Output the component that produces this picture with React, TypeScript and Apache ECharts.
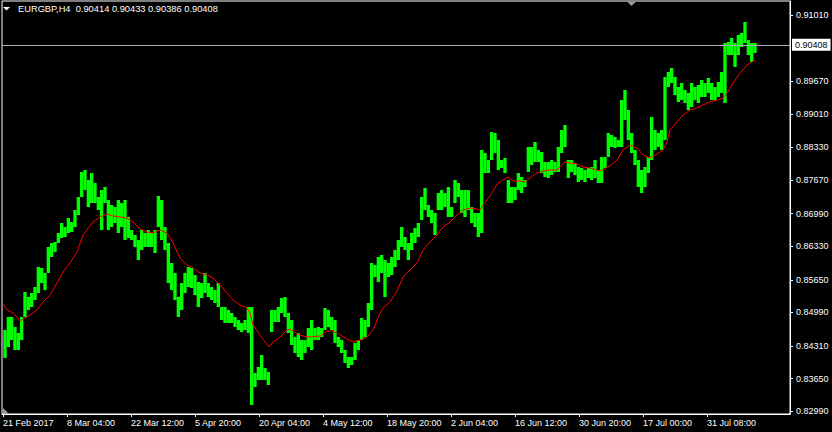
import React, { useEffect, useRef } from 'react';
import * as echarts from 'echarts';

const FONT = '"Liberation Sans", Arial, sans-serif';
const SYMBOL = 'EURGBP,H4';
const LAST_OHLC = [0.90414, 0.90433, 0.90386, 0.90408];
const BID = 0.90408;

// each slot groups ~3.3 H4 bars; bar index 0 sits at the chart's left edge
const SLOT_BARS = 10 / 3;

const HIGHS = [
  0.84635, 0.84898, 0.84898, 0.84696, 0.84574, 0.84898, 0.85404, 0.85303, 0.85384, 0.85505,
  0.85910, 0.85890, 0.85789, 0.86315, 0.86396, 0.86416, 0.86598, 0.86801, 0.86720, 0.86902,
  0.86821, 0.87064, 0.87327, 0.87833, 0.87873, 0.87671, 0.87812, 0.87610, 0.87327, 0.87468,
  0.87529, 0.87266, 0.87165, 0.87124, 0.87266, 0.87205, 0.87266, 0.86922, 0.86659, 0.86558,
  0.86456, 0.86659, 0.86598, 0.86659, 0.86598, 0.86659, 0.87347, 0.87266, 0.86720, 0.86396,
  0.85991, 0.85789, 0.85303, 0.85586, 0.85789, 0.85910, 0.85890, 0.85748, 0.85607, 0.85586,
  0.85789, 0.85586, 0.85505, 0.85444, 0.85586, 0.85100, 0.85100, 0.85040, 0.84979, 0.84898,
  0.84837, 0.84777, 0.84837, 0.85100, 0.85100, 0.83765, 0.83886, 0.84129, 0.83866, 0.83785,
  0.85040, 0.85040, 0.85100, 0.85283, 0.85303, 0.84979, 0.84837, 0.84493, 0.84574, 0.84432,
  0.84432, 0.84675, 0.84837, 0.84675, 0.84696, 0.84675, 0.85080, 0.85040, 0.84898, 0.84837,
  0.84493, 0.84432, 0.84230, 0.84088, 0.84088, 0.84372, 0.84432, 0.84878, 0.84837, 0.85181,
  0.85991, 0.85951, 0.86112, 0.86153, 0.86052, 0.85991, 0.86112, 0.86254, 0.86456, 0.86720,
  0.86517, 0.86396, 0.86598, 0.86699, 0.86801, 0.87327, 0.87509, 0.87165, 0.87064, 0.87003,
  0.87408, 0.87468, 0.87408, 0.87529, 0.87124, 0.87671, 0.87610, 0.87468, 0.87468, 0.87468,
  0.87124, 0.87003, 0.87003, 0.88278, 0.88217, 0.88076, 0.88642, 0.88622, 0.88480, 0.88076,
  0.88116, 0.87671, 0.87529, 0.87529, 0.87812, 0.87732, 0.87671, 0.88339, 0.88339, 0.88440,
  0.88278, 0.88238, 0.88035, 0.88035, 0.88076, 0.88035, 0.88339, 0.88683, 0.88784, 0.88076,
  0.88076, 0.88015, 0.87934, 0.87914, 0.87873, 0.87914, 0.87934, 0.88076, 0.87873, 0.88136,
  0.88136, 0.88622, 0.88582, 0.88541, 0.88480, 0.89290, 0.89492, 0.89088, 0.88622, 0.88278,
  0.88076, 0.87873, 0.87934, 0.88136, 0.88946, 0.88683, 0.88622, 0.88683, 0.89756, 0.89857,
  0.89938, 0.89756, 0.89553, 0.89634, 0.89492, 0.89432, 0.89634, 0.89553, 0.89594, 0.89695,
  0.89634, 0.89735, 0.89634, 0.89553, 0.89654, 0.89857, 0.90444, 0.90464, 0.90545, 0.90444,
  0.90606, 0.90646, 0.90869, 0.90504, 0.90444, 0.90444,
];

const LOWS = [
  0.84068, 0.84291, 0.84432, 0.84230, 0.84230, 0.84432, 0.84898, 0.85040, 0.85100, 0.85242,
  0.85384, 0.85586, 0.85444, 0.85789, 0.86112, 0.86214, 0.86396, 0.86497, 0.86517, 0.86598,
  0.86618, 0.86720, 0.86962, 0.87327, 0.87468, 0.87124, 0.87205, 0.87205, 0.87064, 0.86659,
  0.87205, 0.86659, 0.86720, 0.86801, 0.86598, 0.86720, 0.86456, 0.86497, 0.86456, 0.86315,
  0.86052, 0.86254, 0.86315, 0.86315, 0.86315, 0.86193, 0.86720, 0.86456, 0.86254, 0.85586,
  0.85444, 0.85242, 0.84898, 0.85040, 0.85384, 0.85505, 0.85485, 0.85343, 0.85100, 0.85283,
  0.85384, 0.85303, 0.85242, 0.85181, 0.85100, 0.84837, 0.84777, 0.84777, 0.84777, 0.84696,
  0.84635, 0.84594, 0.84635, 0.84574, 0.83117, 0.83481, 0.83623, 0.83623, 0.83623, 0.83522,
  0.84594, 0.84797, 0.84797, 0.84979, 0.84898, 0.84574, 0.84331, 0.84169, 0.84088, 0.84028,
  0.84169, 0.84291, 0.84230, 0.84432, 0.84432, 0.84493, 0.84635, 0.84696, 0.84635, 0.84372,
  0.84291, 0.84169, 0.83967, 0.83866, 0.83927, 0.84028, 0.84230, 0.84432, 0.84493, 0.84696,
  0.85040, 0.85708, 0.85607, 0.85789, 0.85303, 0.85708, 0.85748, 0.85910, 0.86052, 0.86315,
  0.86254, 0.86052, 0.86254, 0.86396, 0.86517, 0.86861, 0.87064, 0.86922, 0.86801, 0.86558,
  0.87064, 0.87064, 0.87124, 0.86922, 0.86922, 0.87205, 0.87327, 0.87003, 0.86922, 0.87064,
  0.86801, 0.86720, 0.86517, 0.86598, 0.87812, 0.87812, 0.88076, 0.88217, 0.87873, 0.87914,
  0.87812, 0.87205, 0.87205, 0.87266, 0.87468, 0.87408, 0.87529, 0.87833, 0.87974, 0.88035,
  0.88035, 0.87812, 0.87732, 0.87711, 0.87772, 0.87833, 0.87833, 0.88217, 0.88339, 0.87711,
  0.87833, 0.87772, 0.87630, 0.87671, 0.87630, 0.87711, 0.87671, 0.87711, 0.87610, 0.87610,
  0.87914, 0.88136, 0.88339, 0.88319, 0.88339, 0.88339, 0.88885, 0.88480, 0.88217, 0.87974,
  0.87529, 0.87408, 0.87529, 0.87812, 0.88076, 0.88278, 0.88339, 0.88278, 0.88480, 0.89553,
  0.89634, 0.89391, 0.89250, 0.89290, 0.89229, 0.89088, 0.89148, 0.89290, 0.89229, 0.89351,
  0.89351, 0.89432, 0.89290, 0.89290, 0.89351, 0.89432, 0.89229, 0.90201, 0.90201, 0.89958,
  0.90201, 0.90363, 0.90444, 0.90201, 0.90059, 0.90241,
];

// moving average (red), read at bar positions
const MA_X = [
  3, 7, 13, 17, 20, 23, 30, 37, 43, 50, 57, 63, 70, 77, 83, 87, 93, 100, 107, 113,
  120, 127, 133, 140, 147, 153, 160, 167, 173, 180, 187, 193, 200, 207, 213, 220, 227, 233, 240, 247,
  250, 253, 260, 265, 269, 273, 280, 287, 290, 293, 300, 303, 310, 320, 327, 333, 340, 347, 353, 360,
  367, 373, 380, 383, 390, 397, 403, 410, 417, 423, 430, 437, 443, 450, 457, 463, 470, 477, 480, 483,
  490, 497, 503, 508, 513, 520, 525, 530, 537, 543, 550, 557, 562, 565, 570, 577, 583, 590, 597, 600,
  603, 607, 610, 617, 623, 630, 637, 643, 650, 657, 663, 667, 670, 677, 683, 690, 697, 703, 710, 717,
  723, 727, 733, 740, 747, 752, 755,
];
const MA_Y = [
  0.85161, 0.85040, 0.84979, 0.84898, 0.84817, 0.84857, 0.84938, 0.85040, 0.85202, 0.85343,
  0.85586, 0.85809, 0.85991, 0.86214, 0.86558, 0.86659, 0.86821, 0.86922, 0.86983, 0.86942,
  0.86922, 0.86902, 0.86821, 0.86679, 0.86618, 0.86598, 0.86659, 0.86598, 0.86396, 0.86092,
  0.85951, 0.85890, 0.85789, 0.85748, 0.85687, 0.85546, 0.85384, 0.85242, 0.85141, 0.85080,
  0.84979, 0.84736, 0.84534, 0.84392, 0.84291, 0.84392, 0.84493, 0.84635, 0.84655, 0.84614,
  0.84534, 0.84513, 0.84493, 0.84513, 0.84614, 0.84614, 0.84534, 0.84453, 0.84392, 0.84432,
  0.84493, 0.84635, 0.84979, 0.85080, 0.85202, 0.85424, 0.85708, 0.85849, 0.85991, 0.86254,
  0.86416, 0.86558, 0.86720, 0.86821, 0.86962, 0.87064, 0.87104, 0.87084, 0.87064, 0.87165,
  0.87347, 0.87590, 0.87671, 0.87732, 0.87651, 0.87651, 0.87630, 0.87711, 0.87812, 0.87853,
  0.87873, 0.87873, 0.87974, 0.88035, 0.88015, 0.87995, 0.87934, 0.87914, 0.87873, 0.87853,
  0.87873, 0.87934, 0.87954, 0.88076, 0.88278, 0.88379, 0.88319, 0.88177, 0.88116, 0.88197,
  0.88278, 0.88440, 0.88683, 0.88845, 0.88986, 0.89088, 0.89128, 0.89189, 0.89250, 0.89290,
  0.89330, 0.89432, 0.89634, 0.89837, 0.89998, 0.90059, 0.90100,
];

const X_TICKS = [3, 67, 131, 195, 259, 323, 387, 451, 515, 579, 643, 707];
const X_LABELS = [
  '21 Feb 2017', '8 Mar 04:00', '22 Mar 12:00', '5 Apr 20:00', '20 Apr 04:00', '4 May 12:00',
  '18 May 20:00', '2 Jun 04:00', '16 Jun 12:00', '30 Jun 20:00', '17 Jul 00:00', '31 Jul 08:00',
];
const Y_TICKS = [
  0.9101, 0.8967, 0.8901, 0.8833, 0.8767, 0.8699, 0.8633, 0.8565, 0.8499, 0.8431, 0.8365, 0.8299,
];
const Y_MIN = 0.82935;
const Y_MAX = 0.91294;
const X_MIN = 2;
const X_MAX = 790;

export default function App() {
  const ref = useRef<HTMLDivElement>(null);
  useEffect(() => {
    const chart = echarts.init(ref.current as HTMLDivElement, null, { renderer: 'svg' });
    const bars = HIGHS.map((h, i) => [(i + 1) * SLOT_BARS, LOWS[i], h]);
    const header = SYMBOL + '\u00a0\u00a0' + LAST_OHLC.map((v) => v.toFixed(5)).join(' ');
    chart.setOption({
      animation: false,
      backgroundColor: '#000000',
      textStyle: { fontFamily: FONT },
      grid: {
        left: 2, right: 42, top: 1, bottom: 18,
        show: true, borderColor: '#ffffff', borderWidth: 1, backgroundColor: 'transparent',
      },
      xAxis: {
        type: 'value', min: X_MIN, max: X_MAX,
        axisLine: { show: true, onZero: false, lineStyle: { color: '#ffffff', width: 1 } },
        axisTick: { show: true, inside: false, length: 3, customValues: X_TICKS, lineStyle: { color: '#ffffff' } },
        axisLabel: {
          show: true, customValues: X_TICKS,
          formatter: (v: number) => { const i = X_TICKS.indexOf(Math.round(v)); return i >= 0 ? X_LABELS[i] : ''; },
          color: '#ffffff', fontSize: 9, fontFamily: FONT, align: 'left', margin: 4, hideOverlap: false,
        },
        splitLine: { show: false },
      },
      yAxis: {
        type: 'value', position: 'right', min: Y_MIN, max: Y_MAX,
        axisLine: { show: true, onZero: false, lineStyle: { color: '#ffffff', width: 1 } },
        axisTick: { show: true, inside: false, length: 3, customValues: Y_TICKS, lineStyle: { color: '#ffffff' } },
        axisLabel: {
          show: true, customValues: Y_TICKS, formatter: (v: number) => v.toFixed(5),
          color: '#ffffff', fontSize: 9, fontFamily: FONT, margin: 6, hideOverlap: false,
        },
        splitLine: { show: false },
      },
      graphic: [
        { type: 'polygon', shape: { points: [[3, 7], [10, 7], [6.5, 10.5]] }, style: { fill: '#ffffff' } },
        {
          type: 'text', x: 18, y: 9,
          style: { text: header, fill: '#ffffff', font: '9.3px "Liberation Sans"', verticalAlign: 'middle', align: 'left' },
        },
        { type: 'polygon', shape: { points: [[627, 1.5], [636, 1.5], [631.5, 6]] }, style: { fill: '#9a9a9a' } },
        { type: 'polygon', shape: { points: [[3, 408], [3, 414], [9, 414]] }, style: { fill: '#9a9a9a' } },
      ],
      series: [
        {
          type: 'custom',
          data: bars,
          encode: { x: 0, y: [1, 2] },
          silent: true,
          clip: true,
          renderItem: (_params: any, api: any) => {
            const x0 = api.value(0);
            const lo = api.value(1);
            const hi = api.value(2);
            const a = api.coord([x0, hi]);
            const b = api.coord([x0 + SLOT_BARS, lo]);
            return {
              type: 'rect',
              shape: { x: a[0], y: a[1], width: b[0] - a[0], height: Math.max(1, b[1] - a[1]) },
              style: { fill: '#00ff00' },
            };
          },
        },
        {
          type: 'line',
          data: MA_X.map((x, i) => [x, MA_Y[i]]),
          showSymbol: false,
          symbol: 'none',
          silent: true,
          lineStyle: { color: '#ff0000', width: 1 },
          markLine: {
            silent: true,
            symbol: 'none',
            precision: 5,
            lineStyle: { color: '#a8aeb6', width: 1, type: 'solid' },
            label: {
              show: true, position: 'end', formatter: BID.toFixed(5),
              backgroundColor: '#ffffff', color: '#000000', fontSize: 9, fontFamily: FONT,
              padding: [2, 3, 1, 3], distance: 2,
            },
            data: [{ yAxis: BID }],
          },
        },
      ],
    });
    return () => chart.dispose();
  }, []);
  return <div ref={ref} style={{ position: 'fixed', left: 0, top: 0, width: 832, height: 432 }} />;
}
